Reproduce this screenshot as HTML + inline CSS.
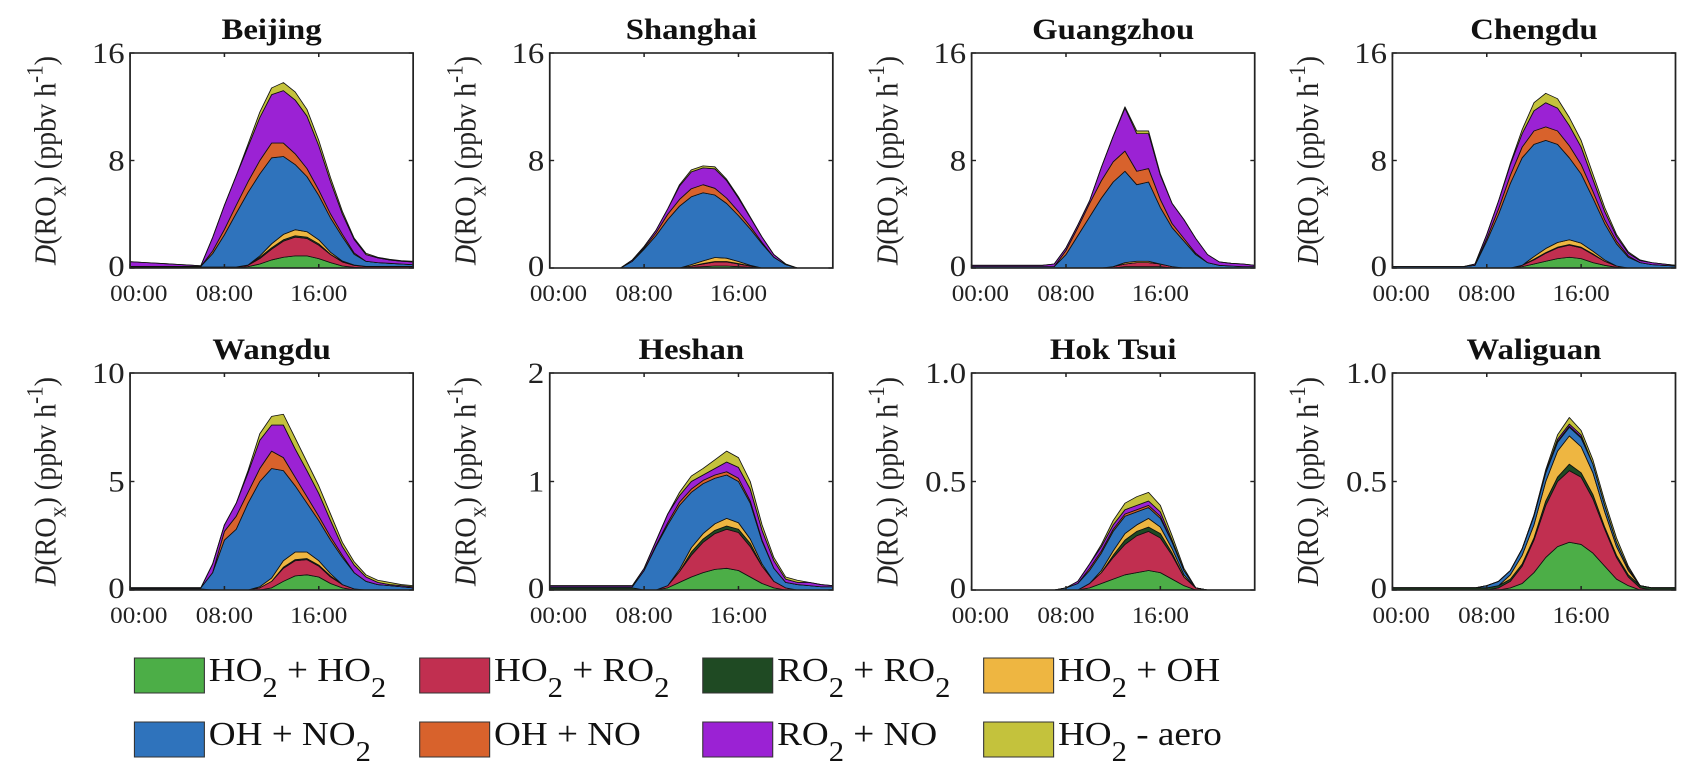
<!DOCTYPE html>
<html><head><meta charset="utf-8"><style>
html,body{margin:0;padding:0;background:#fff;}
svg{display:block;font-family:"Liberation Serif",serif;}
</style></head><body>
<svg id="fig" width="1705" height="779" viewBox="0 0 1560 779" preserveAspectRatio="none" xmlns="http://www.w3.org/2000/svg"></svg>
<script>
const hours = [0,1,2,3,4,5,6,7,8,9,10,11,12,13,14,15,16,17,18,19,20,21,22,23,24];
const seriesNames = ["HO2 + HO2","HO2 + RO2","RO2 + RO2","HO2 + OH","OH + NO2","OH + NO","RO2 + NO","HO2 - aero"];
const seriesColors = ["#4cae47","#c12f50","#1f4a23","#eeb641","#2f73bc","#d8622c","#9b22d4","#c4c23c"];
const siteNames = ["Beijing","Shanghai","Guangzhou","Chengdu","Wangdu","Heshan","Hok Tsui","Waliguan"];
const yMax = [16,16,16,16,10,2,1,1];
const yTicks = [[0,8,16],[0,8,16],[0,8,16],[0,8,16],[0,5,10],[0,1,2],[0,0.5,1],[0,0.5,1]];
const yTickLabels = [["0","8","16"],["0","8","16"],["0","8","16"],["0","8","16"],["0","5","10"],["0","1","2"],["0","0.5","1.0"],["0","0.5","1.0"]];
const xTicks = [0,8,16];
const xTickLabels = ["00:00","08:00","16:00"];
// values: [site][series][hour]
const beijing = [
 [0,0,0,0,0,0,0,0,0,0,.1,.3,.6,.8,.9,.9,.7,.4,.15,.05,0,0,0,0,0],
 [.05,.05,.05,.05,.05,.05,.05,.05,.05,.05,.1,.4,.8,1.2,1.4,1.3,1.0,.6,.3,.15,.1,.1,.1,.1,.1],
 [.02,.02,.02,.02,.02,.02,.02,.02,.02,.02,.02,.1,.1,.1,.1,.1,.1,.02,.02,.02,.02,.02,.02,.02,.02],
 [0,0,0,0,0,0,0,0,0,0,0,.1,.3,.4,.45,.4,.3,.15,.05,0,0,0,0,0,0],
 [.05,.05,.05,.05,.05,.05,.05,1.0,2.4,4.0,5.4,6.1,6.4,5.8,4.85,4.1,3.3,2.55,1.8,.8,.38,.28,.23,.18,.13],
 [0,0,0,0,0,0,0,.2,.4,.6,.8,1.0,1.1,1.0,.8,.6,.4,.3,.2,.1,0,0,0,0,0],
 [.35,.3,.25,.2,.15,.1,.05,1.0,1.8,2.2,2.6,3.2,3.6,3.9,4.0,3.9,3.3,2.4,1.5,1.0,.5,.35,.25,.2,.2],
 [0,0,0,0,0,0,0,0,0,0,.2,.4,.5,.6,.6,.5,.4,.3,.2,.1,.1,.05,.05,.05,.05]];
const shanghai = [
 [0,0,0,0,0,0,0,0,0,0,0,0,.05,.1,.15,.15,.1,.05,0,0,0,0,0,0,0],
 [0,0,0,0,0,0,0,0,0,0,0,0,.1,.2,.3,.3,.2,.1,0,0,0,0,0,0,0],
 [0,0,0,0,0,0,0,0,0,0,0,0,0,.03,.03,.03,.03,0,0,0,0,0,0,0,0],
 [0,0,0,0,0,0,0,0,0,0,0,0,.1,.2,.3,.25,.15,.05,0,0,0,0,0,0,0],
 [0,0,0,0,0,0,0,.5,1.4,2.4,3.6,4.6,5.05,5.07,4.65,4.07,3.42,2.7,1.8,.8,.25,0,0,0,0],
 [0,0,0,0,0,0,0,0,.1,.2,.4,.5,.6,.6,.5,.4,.3,.2,.1,0,0,0,0,0,0],
 [0,0,0,0,0,0,0,.1,.1,.2,.4,1.0,1.25,1.25,1.45,1.3,1.0,.65,.4,.2,.05,0,0,0,0],
 [0,0,0,0,0,0,0,0,0,0,0,.1,.15,.15,.15,.1,.1,.05,0,0,0,0,0,0,0]];
const guangzhou = [
 [0,0,0,0,0,0,0,0,0,0,0,0,0,.1,.1,.1,.1,0,0,0,0,0,0,0,0],
 [0,0,0,0,0,0,0,0,0,0,0,0,.1,.2,.3,.3,.2,.1,0,0,0,0,0,0,0],
 [0,0,0,0,0,0,0,0,0,0,0,0,0,0,0,0,0,0,0,0,0,0,0,0,0],
 [0,0,0,0,0,0,0,0,0,0,0,0,0,.1,.1,.1,0,0,0,0,0,0,0,0,0],
 [.1,.1,.1,.1,.1,.1,.1,.1,1.0,2.4,3.8,5.2,6.3,6.8,5.7,5.9,4.2,2.9,2.0,1.0,.4,.2,.15,.1,.1],
 [0,0,0,0,0,0,0,0,.3,.6,1.0,1.3,1.5,1.5,1.0,1.0,.6,.3,.2,.1,0,0,0,0,0],
 [.1,.1,.1,.1,.1,.1,.1,.2,.2,.2,.2,1.0,1.9,3.2,2.8,2.6,1.8,1.5,1.4,1.1,.6,.25,.2,.2,.1],
 [0,0,0,0,0,0,0,0,0,0,0,0,0,.1,.2,.2,.1,0,0,0,0,0,0,0,0]];
const chengdu = [
 [0,0,0,0,0,0,0,0,0,0,0,.1,.3,.5,.7,.8,.7,.4,.2,.05,0,0,0,0,0],
 [0,0,0,0,0,0,0,0,0,0,0,.1,.3,.6,.8,.9,.8,.6,.3,.1,0,0,0,0,0],
 [0,0,0,0,0,0,0,0,0,0,0,0,.05,.05,.05,.05,.05,.05,0,0,0,0,0,0,0],
 [0,0,0,0,0,0,0,0,0,0,0,0,.2,.3,.35,.35,.3,.2,.1,0,0,0,0,0,0],
 [.1,.1,.1,.1,.1,.1,.1,.2,2.0,4.0,6.3,8.0,8.35,8.05,7.3,6.1,5.15,3.95,2.7,1.65,.8,.4,.25,.2,.15],
 [0,0,0,0,0,0,0,0,.2,.4,.6,.8,1.0,1.0,1.0,.9,.7,.5,.3,.2,.1,0,0,0,0],
 [0,0,0,0,0,0,0,.1,.3,.6,.8,1.0,1.5,1.8,1.7,1.5,1.3,.9,.6,.35,.2,.15,.15,.1,.05],
 [0,0,0,0,0,0,0,0,0,0,.1,.3,.6,.7,.7,.6,.5,.4,.3,.15,.1,.05,0,0,0]];
const wangdu = [
 [0,0,0,0,0,0,0,0,0,0,0,0,.1,.4,.65,.7,.6,.3,.1,0,0,0,0,0,0],
 [0,0,0,0,0,0,0,0,0,0,0,.1,.3,.6,.7,.7,.5,.3,.15,.05,0,0,0,0,0],
 [.05,.05,.05,.05,.05,.05,.05,0,0,0,0,0,0,.05,.05,.05,.05,.05,0,0,0,0,0,0,0],
 [0,0,0,0,0,0,0,0,0,0,0,.05,.15,.3,.35,.3,.2,.1,0,0,0,0,0,0,0],
 [.05,.05,.05,.05,.05,.05,.05,.8,2.3,2.8,4.0,4.85,5.05,4.15,3.05,2.25,1.85,1.55,1.25,.75,.4,.25,.2,.15,.1],
 [0,0,0,0,0,0,0,0,.4,.6,.5,.6,.8,.6,.4,.3,.2,.15,.1,0,0,0,0,0,0],
 [0,0,0,0,0,0,0,.4,.3,.6,.9,1.3,1.2,1.5,1.3,1.2,1.05,.75,.4,.35,.2,.1,.05,.05,.05],
 [0,0,0,0,0,0,0,0,0,0,.1,.3,.4,.5,.5,.4,.35,.3,.2,.15,.1,.1,.1,.05,.05]];
const heshan = [
 [0,0,0,0,0,0,0,0,0,0,.02,.07,.12,.16,.19,.2,.18,.12,.06,.02,0,0,0,0,0],
 [0,0,0,0,0,0,0,0,0,0,.02,.1,.2,.28,.33,.36,.35,.28,.16,.06,.02,0,0,0,0],
 [.02,.02,.02,.02,.02,.02,.02,.02,0,0,0,0,.03,.03,.03,.03,.03,.03,0,0,0,0,0,0,0],
 [0,0,0,0,0,0,0,0,0,0,0,.02,.04,.05,.06,.07,.06,.04,.02,0,0,0,0,0,0],
 [.01,.01,.01,.01,.01,.01,.01,.01,.18,.4,.56,.59,.51,.46,.42,.4,.38,.33,.21,.12,.05,.05,.04,.03,.03],
 [0,0,0,0,0,0,0,0,0,.01,.02,.03,.03,.03,.03,.03,.03,.02,.01,0,0,0,0,0,0],
 [.01,.01,.01,.01,.01,.01,.01,.01,.02,.04,.08,.06,.07,.05,.06,.09,.1,.11,.09,.07,.03,.02,.03,.02,.01],
 [0,0,0,0,0,0,0,0,0,0,0,.03,.05,.06,.08,.1,.09,.07,.05,.03,.02,.02,0,0,0]];
const hoktsui = [
 [0,0,0,0,0,0,0,0,0,0,.01,.03,.05,.07,.08,.09,.08,.05,.02,0,0,0,0,0,0],
 [0,0,0,0,0,0,0,0,0,0,.02,.05,.1,.14,.17,.18,.16,.11,.04,.01,0,0,0,0,0],
 [0,0,0,0,0,0,0,0,0,0,0,0,.01,.02,.02,.02,.02,.01,0,0,0,0,0,0,0],
 [0,0,0,0,0,0,0,0,0,0,0,.01,.02,.03,.03,.04,.03,.02,.01,0,0,0,0,0,0],
 [0,0,0,0,0,0,0,0,.01,.03,.06,.08,.09,.08,.06,.05,.04,.03,.02,0,0,0,0,0,0],
 [0,0,0,0,0,0,0,0,0,0,.01,.01,.01,.01,.01,.01,.01,0,0,0,0,0,0,0,0],
 [0,0,0,0,0,0,0,0,0,.01,.02,.02,.02,.02,.02,.02,.02,.01,0,0,0,0,0,0,0],
 [0,0,0,0,0,0,0,0,0,0,0,.01,.02,.03,.04,.04,.03,.02,.01,0,0,0,0,0,0]];
const waliguan = [
 [0,0,0,0,0,0,0,0,0,0,.01,.03,.08,.15,.2,.22,.21,.17,.11,.05,.02,0,0,0,0],
 [0,0,0,0,0,0,0,0,0,.01,.03,.08,.15,.24,.3,.33,.31,.25,.17,.1,.04,.01,0,0,0],
 [.01,.01,.01,.01,.01,.01,.01,.01,.01,.01,.01,.01,.01,.02,.02,.03,.02,.02,.01,.01,.01,.01,.01,.01,.01],
 [0,0,0,0,0,0,0,0,0,0,.02,.04,.06,.09,.12,.13,.12,.1,.07,.04,.02,0,0,0,0],
 [0,0,0,0,0,0,0,0,.01,.02,.02,.03,.04,.04,.04,.04,.04,.04,.03,.02,.01,0,0,0,0],
 [0,0,0,0,0,0,0,0,0,0,0,0,.005,.005,.005,.005,.005,0,0,0,0,0,0,0,0],
 [0,0,0,0,0,0,0,0,0,0,0,0,0,0,.01,.01,.01,0,0,0,0,0,0,0,0],
 [0,0,0,0,0,0,0,0,0,0,0,0,0,.01,.02,.03,.02,.02,.02,.02,.01,0,0,0,0]];
const siteData = [beijing,shanghai,guangzhou,chengdu,wangdu,heshan,hoktsui,waliguan];

const NS = "http://www.w3.org/2000/svg";
const svg = document.getElementById('fig');
function mk(tag, attrs, parent){const e=document.createElementNS(NS,tag);for(const k in attrs)e.setAttribute(k,attrs[k]);(parent||svg).appendChild(e);return e;}

const colLeft=[119,503,889,1274], W=259;
const rowTop=[53,373], H=[215,217];

siteNames.forEach((name,si)=>{
  const L=colLeft[si%4], T=rowTop[Math.floor(si/4)], h=H[Math.floor(si/4)];
  const g=mk('g',{});
  
  
  const xs=v=>L+v/24*W, ys=v=>T+h-v/yMax[si]*h;
  const data=siteData[si];
  let base=hours.map(()=>0);
  data.forEach((ser,k)=>{
    const top=base.map((b,i)=>b+ser[i]);
    let d='M'+hours.map((hr,i)=>xs(hr)+','+ys(top[i])).join('L');
    for(let i=hours.length-1;i>=0;i--) d+='L'+xs(hours[i])+','+ys(base[i]);
    d+='Z';
    const p=mk('path',{d:d,fill:seriesColors[k],stroke:'#111','stroke-width':0.8,'stroke-linejoin':'round'},g);
    
    
    base=top;
  });
  const box=mk('rect',{x:L,y:T,width:W,height:h,fill:'none',stroke:'#222','stroke-width':1.6},g);
  
  
  xTicks.forEach((t,i)=>{
    mk('line',{x1:xs(t),x2:xs(t),y1:T+h,y2:T+h-4,stroke:'#222','stroke-width':1.4},g);
    mk('line',{x1:xs(t),x2:xs(t),y1:T,y2:T+4,stroke:'#222','stroke-width':1.4},g);
    const tx=mk('text',{x:xs(t)+(i==0?8:0),y:T+h+33,'font-size':23,'text-anchor':'middle',fill:'#222'},g);
    tx.textContent=xTickLabels[i];
    
    
  });
  yTicks[si].forEach((t,i)=>{
    mk('line',{x1:L,x2:L+4,y1:ys(t),y2:ys(t),stroke:'#222','stroke-width':1.4},g);
    mk('line',{x1:L+W,x2:L+W-4,y1:ys(t),y2:ys(t),stroke:'#222','stroke-width':1.4},g);
    const ty=mk('text',{x:L-5,y:ys(t)+(i==0?8:10),'font-size':30,'text-anchor':'end',fill:'#222'},g);
    ty.textContent=yTickLabels[si][i];
    
    
  });
  const tt=mk('text',{x:L+W/2,y:T-14,'font-size':30,'font-weight':'bold','text-anchor':'middle',fill:'#111'},g);
  tt.textContent=name;
  
  
  const cx=L-68, cy=T+h/2;
  const yl=mk('text',{x:cx,y:cy,'font-size':28,'text-anchor':'middle',fill:'#222',transform:'rotate(-90 '+cx+' '+cy+')'},g);
  yl.innerHTML='<tspan font-style="italic">D</tspan>(RO<tspan dy="9" font-size="22">x</tspan><tspan dy="-9">) (ppbv h</tspan><tspan dy="-12" font-size="21">-1</tspan><tspan dy="12">)</tspan>';
  
  
});

// legend
const legX=[123,384,643,900], legY=[658,722];
const legLabels=[["HO","2"," + HO","2"],["HO","2"," + RO","2"],["RO","2"," + RO","2"],["HO","2"," + OH",""],["OH + NO","2","",""],["OH + NO","","",""],["RO","2"," + NO",""],["HO","2"," - aero",""]];
seriesNames.forEach((n,k)=>{
  const x=legX[k%4], y=legY[Math.floor(k/4)];
  const g=mk('g',{});
  
  
  mk('rect',{x:x,y:y,width:64,height:35,fill:seriesColors[k],stroke:'#333','stroke-width':1},g);
  const t=mk('text',{x:x+68,y:y+23,'font-size':34,fill:'#111'},g);
  const p=legLabels[k];
  t.innerHTML=p[0]+(p[1]?'<tspan dy="16" font-size="28">'+p[1]+'</tspan>':'')+(p[2]?'<tspan dy="'+(p[1]?-16:0)+'">'+p[2]+'</tspan>':'')+(p[3]?'<tspan dy="16" font-size="28">'+p[3]+'</tspan>':'');
});
</script>
</body></html>
